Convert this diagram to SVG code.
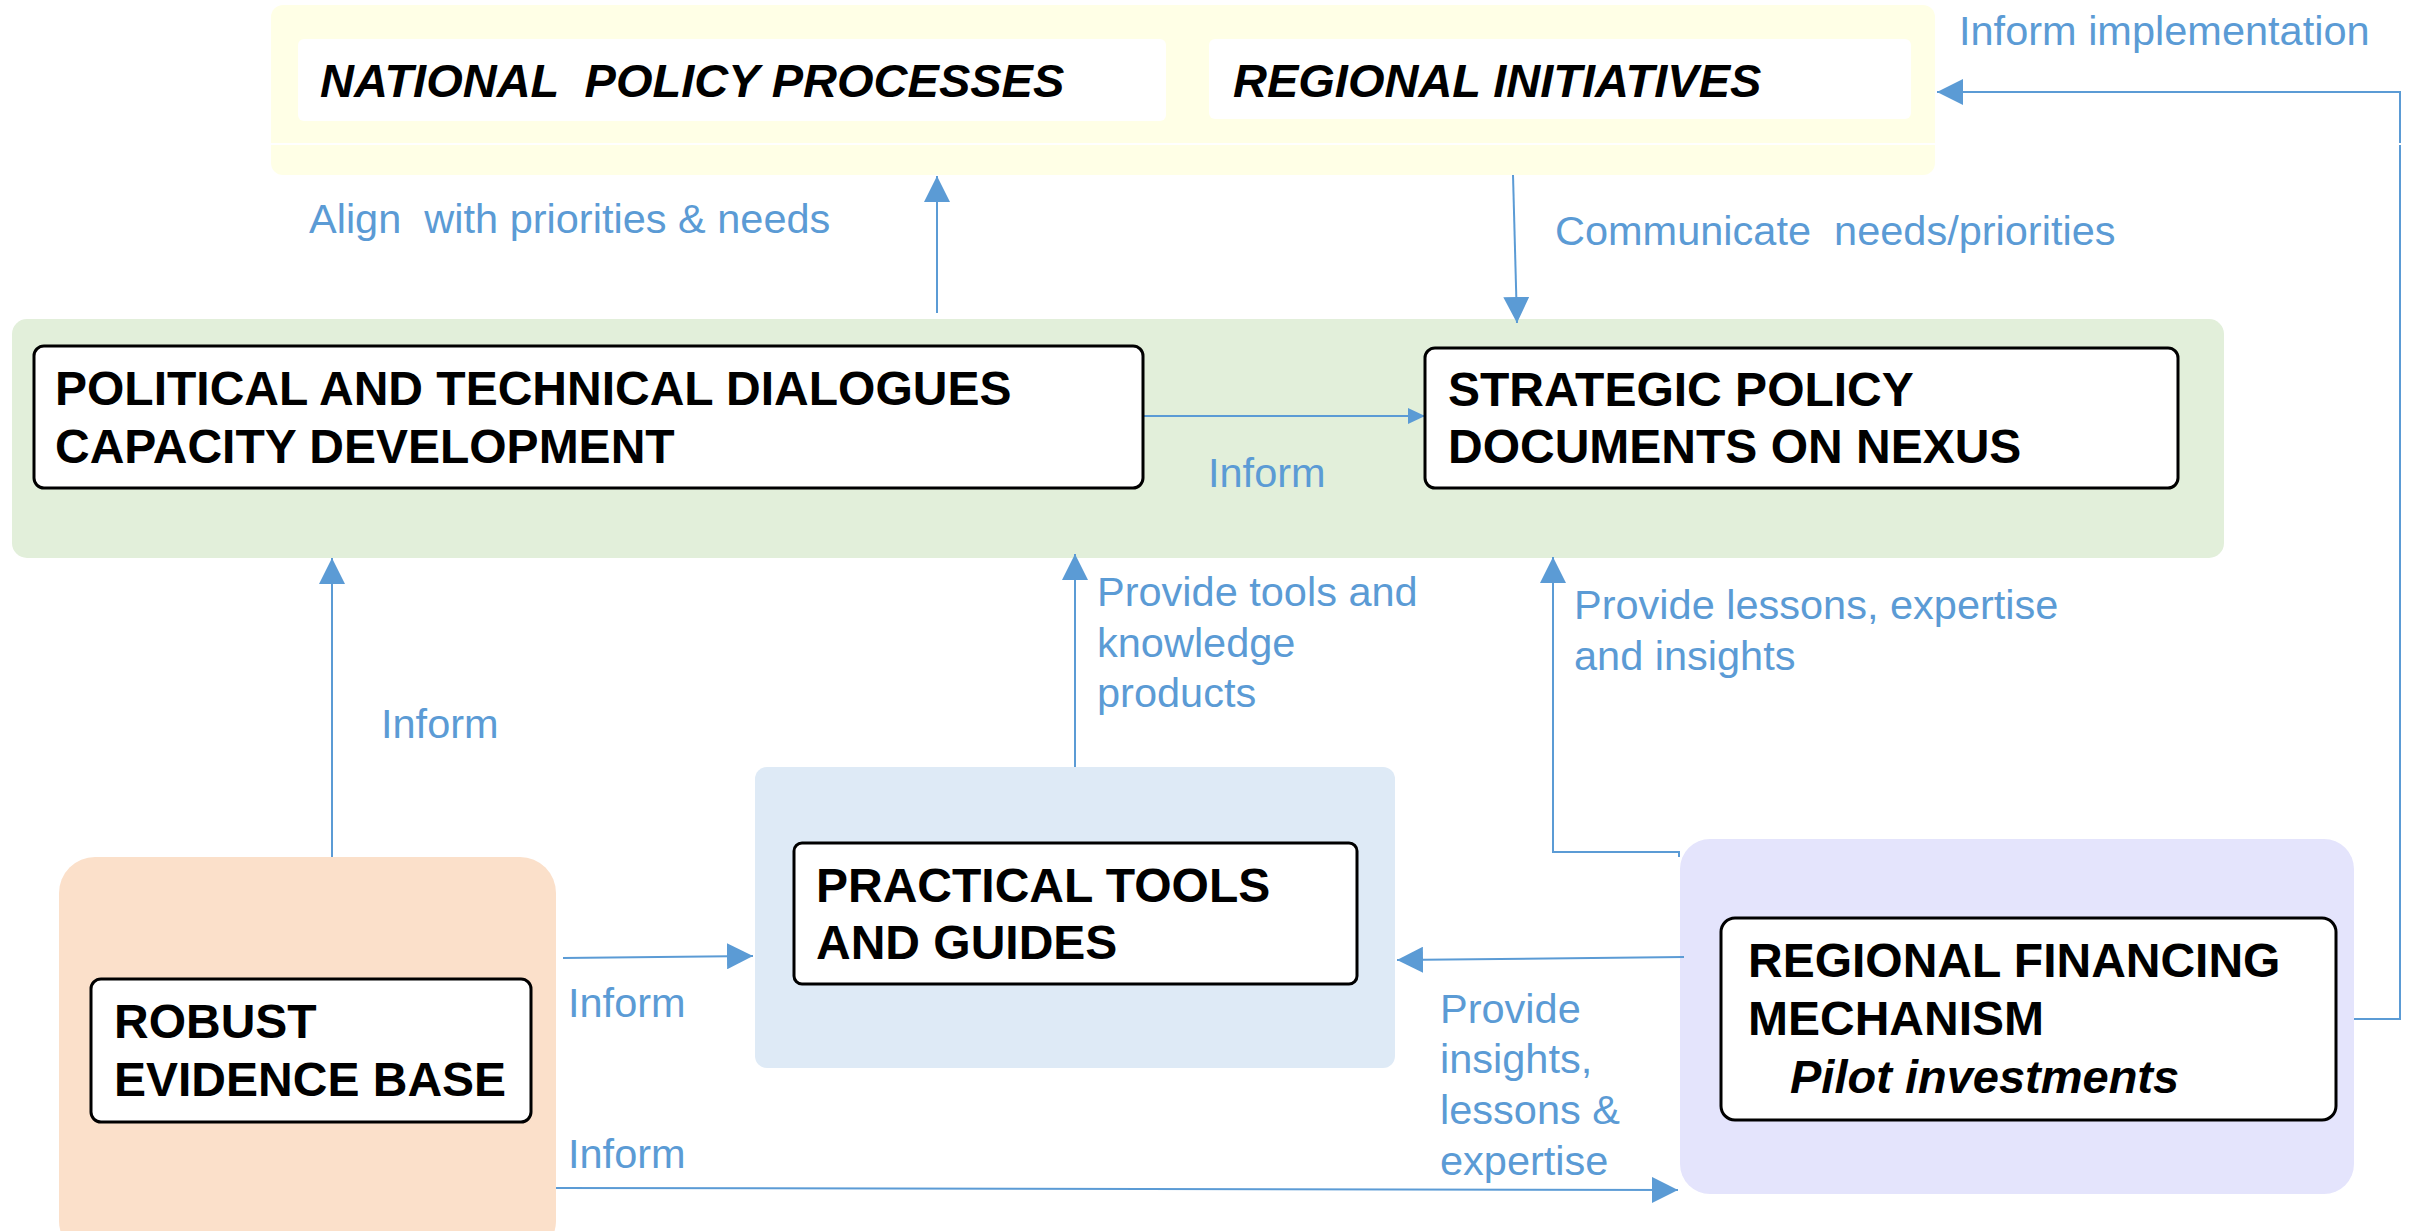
<svg xmlns="http://www.w3.org/2000/svg" width="2425" height="1231" viewBox="0 0 2425 1231">
<defs>
<style>
.box{fill:#ffffff;stroke:#000000;stroke-width:3}
.t{font-family:"Liberation Sans",Arial,sans-serif;font-weight:bold;font-size:48px;fill:#000000}
.ti{font-family:"Liberation Sans",Arial,sans-serif;font-weight:bold;font-style:italic;font-size:47px;fill:#000000}
.lbl{font-family:"Liberation Sans",Arial,sans-serif;font-size:41.5px;fill:#5B9BD5}
.c{fill:none;stroke:#5B9BD5;stroke-width:2}
</style>
<marker id="ah" viewBox="0 0 26 26" refX="26" refY="13" markerWidth="26" markerHeight="26" markerUnits="userSpaceOnUse" orient="auto">
<path d="M0,0 L26,13 L0,26 z" fill="#5B9BD5"/>
</marker>
<marker id="ahs" viewBox="0 0 17 16" refX="17" refY="8" markerWidth="17" markerHeight="16" markerUnits="userSpaceOnUse" orient="auto">
<path d="M0,0 L17,8 L0,16 z" fill="#5B9BD5"/>
</marker>
</defs>
<rect width="2425" height="1231" fill="#ffffff"/>

<g id="containers">
<rect x="271" y="5" width="1664" height="170" rx="12" fill="#FFFFE6"/>
<rect x="12" y="319" width="2212" height="239" rx="15" fill="#E2EFDA"/>
<rect x="59" y="857" width="497" height="400" rx="36" fill="#FBE0CA"/>
<rect x="755" y="767" width="640" height="301" rx="12" fill="#DEEAF6"/>
<rect x="1680" y="839" width="674" height="355" rx="30" fill="#E4E4FC"/>
</g>

<g id="connectors">
<path class="c" d="M937,313 V176" marker-end="url(#ah)"/>
<path class="c" d="M1513,175 L1517,323" marker-end="url(#ah)"/>
<path class="c" d="M1143,416 H1425" marker-end="url(#ahs)"/>
<path class="c" d="M332,857 V558" marker-end="url(#ah)"/>
<path class="c" d="M563,958 L753,956" marker-end="url(#ah)"/>
<path class="c" d="M556,1188 L1678,1190" marker-end="url(#ah)"/>
<path class="c" d="M1075,767 V554" marker-end="url(#ah)"/>
<path class="c" d="M1679,857 V852 H1553 V557" marker-end="url(#ah)"/>
<path class="c" d="M1684,957 L1397,960" marker-end="url(#ah)"/>
<path class="c" d="M2354,1019 H2400 V92 H1937" marker-end="url(#ah)"/>
</g>

<rect x="263" y="143" width="2150" height="2" fill="#ffffff"/>

<g id="national">
<rect x="298" y="39" width="868" height="82" rx="6" fill="#ffffff"/>
<text class="ti" x="320" y="97" xml:space="preserve">NATIONAL  POLICY PROCESSES</text>
</g>
<g id="regional-initiatives">
<rect x="1209" y="39" width="702" height="80" rx="6" fill="#ffffff"/>
<text class="ti" x="1233" y="97">REGIONAL INITIATIVES</text>
</g>
<g id="dialogues">
<rect class="box" x="34" y="346" width="1109" height="142" rx="10"/>
<text class="t" x="55" y="405">POLITICAL AND TECHNICAL DIALOGUES</text>
<text class="t" x="55" y="463">CAPACITY DEVELOPMENT</text>
</g>
<g id="strategic">
<rect class="box" x="1425" y="348" width="753" height="140" rx="10"/>
<text class="t" x="1448" y="406">STRATEGIC POLICY</text>
<text class="t" x="1448" y="463">DOCUMENTS ON NEXUS</text>
</g>
<g id="evidence">
<rect class="box" x="91" y="979" width="440" height="143" rx="10"/>
<text class="t" x="114" y="1038">ROBUST</text>
<text class="t" x="114" y="1096">EVIDENCE BASE</text>
</g>
<g id="tools">
<rect class="box" x="794" y="843" width="563" height="141" rx="8"/>
<text class="t" x="816" y="902">PRACTICAL TOOLS</text>
<text class="t" x="816" y="959">AND GUIDES</text>
</g>
<g id="financing">
<rect class="box" x="1721" y="918" width="615" height="202" rx="14"/>
<text class="t" x="1748" y="977">REGIONAL FINANCING</text>
<text class="t" x="1748" y="1035">MECHANISM</text>
<text class="ti" x="1790" y="1093">Pilot investments</text>
</g>

<g id="labels">
<text class="lbl" x="309" y="233" xml:space="preserve">Align  with priorities &amp; needs</text>
<text class="lbl" x="1555" y="245" xml:space="preserve">Communicate  needs/priorities</text>
<text class="lbl" x="1959" y="45">Inform implementation</text>
<text class="lbl" x="1208" y="487">Inform</text>
<text class="lbl" x="381" y="738">Inform</text>
<text class="lbl" x="568" y="1017">Inform</text>
<text class="lbl" x="568" y="1168">Inform</text>
<text class="lbl" x="1097" y="606">Provide tools and</text>
<text class="lbl" x="1097" y="657">knowledge</text>
<text class="lbl" x="1097" y="707">products</text>
<text class="lbl" x="1574" y="619">Provide lessons, expertise</text>
<text class="lbl" x="1574" y="670">and insights</text>
<text class="lbl" x="1440" y="1023">Provide</text>
<text class="lbl" x="1440" y="1073">insights,</text>
<text class="lbl" x="1440" y="1124">lessons &amp;</text>
<text class="lbl" x="1440" y="1175">expertise</text>
</g>
</svg>
